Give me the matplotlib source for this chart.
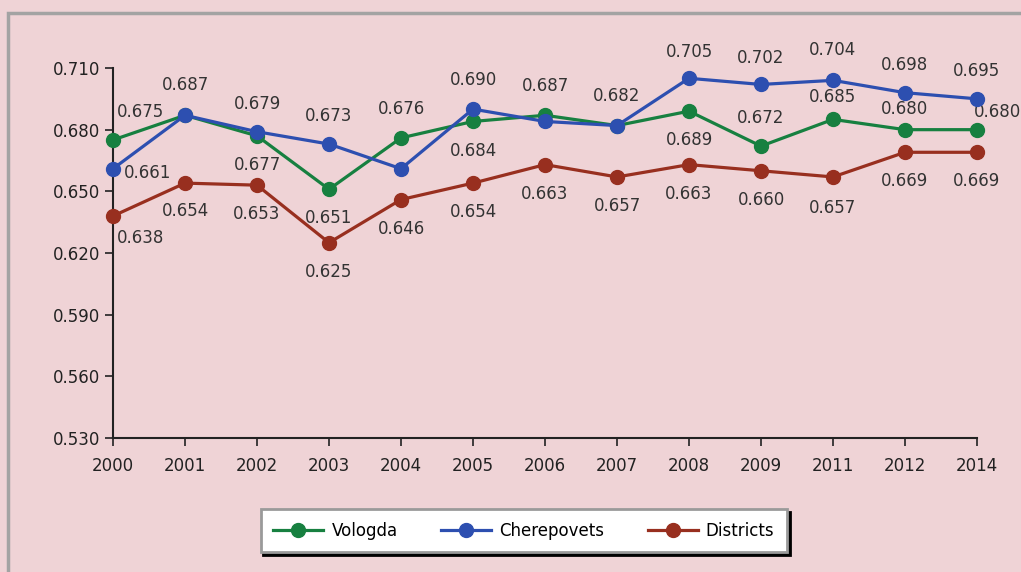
import matplotlib.pyplot as plt
from matplotlib.patches import Rectangle

# dados
years = ['2000', '2001', '2002', '2003', '2004', '2005', '2006',
         '2007', '2008', '2009', '2011', '2012', '2014']
vologda = [0.675, 0.687, 0.677, 0.651, 0.676, 0.684, 0.687,
           0.682, 0.689, 0.672, 0.685, 0.680, 0.680]
cherepovets = [0.661, 0.687, 0.679, 0.673, 0.661, 0.690, 0.684,
               0.682, 0.705, 0.702, 0.704, 0.698, 0.695]
districts = [0.638, 0.654, 0.653, 0.625, 0.646, 0.654, 0.663,
             0.657, 0.663, 0.660, 0.657, 0.669, 0.669]
yticks = [0.530, 0.560, 0.590, 0.620, 0.650, 0.680, 0.710]

# posição dos rótulos (offset em pontos; None = sem rótulo)
off_vol = [(20, 20), None, (0, -21), (0, -21), (0, 21), (0, -21), (0, 21),
           (0, 21), (0, -21), (0, 20), (0, 16), (0, 15), (15, 13)]
off_che = [(25, -3), (0, 22), (0, 20), (0, 20), None, (0, 21), None,
           None, (0, 19), (0, 19), (0, 22), (0, 20), (0, 20)]
off_dis = [(20, -16), (0, -20), (0, -21), (0, -21), (0, -21), (0, -21), (0, -21),
           (0, -21), (0, -21), (0, -21), (0, -22), (0, -21), (0, -21)]

bg = '#efd3d6'
c_vol = '#178040'
c_che = '#2d4fb0'
c_dis = '#982f1f'

fig = plt.figure(figsize=(10.21, 5.72), dpi=100, facecolor=bg)
ax = fig.add_axes([0.1107, 0.2343, 0.8462, 0.6468])
ax.set_facecolor(bg)

# moldura cinza
fig.patches.append(Rectangle((0.008, -0.1), 1.2, 1.077, transform=fig.transFigure,
                             fill=False, edgecolor='#a3a3a3', linewidth=2.5))

x = range(len(years))
series = [(vologda, c_vol, 'Vologda', off_vol),
          (cherepovets, c_che, 'Cherepovets', off_che),
          (districts, c_dis, 'Districts', off_dis)]
for vals, col, name, offs in series:
    ax.plot(x, vals, color=col, linewidth=2.3, marker='o', markersize=10,
            label=name, clip_on=False, zorder=3)
    for i, v in enumerate(vals):
        if offs[i] is None:
            continue
        ax.annotate('%.3f' % v, (i, v), xytext=offs[i], textcoords='offset points',
                    ha='center', va='center', fontsize=12, color='#333333')

ax.set_xlim(0, len(years) - 1)
ax.set_ylim(0.530, 0.710)
ax.set_xticks(list(x))
ax.set_xticklabels(years)
ax.set_yticks(yticks)
ax.set_yticklabels(['%.3f' % t for t in yticks])
ax.tick_params(axis='both', labelsize=12, colors='#222222', length=6, width=1.2, direction='out')
ax.tick_params(axis='x', pad=8)
for s in ['top', 'right']:
    ax.spines[s].set_visible(False)
for s in ['left', 'bottom']:
    ax.spines[s].set_linewidth(1.5)
    ax.spines[s].set_color('#222222')

leg = ax.legend(loc='center', bbox_to_anchor=(0.513, 0.072), bbox_transform=fig.transFigure,
                ncol=3, fontsize=12, frameon=True, fancybox=False,
                shadow={'color': 'black', 'alpha': 1.0}, handlelength=3.0,
                columnspacing=2.6, borderpad=0.75, borderaxespad=0, handletextpad=0.5,
                edgecolor='#9a9a9a', facecolor='white', framealpha=1)
leg.get_frame().set_linewidth(2)

plt.savefig('out.png', dpi=100, facecolor=bg)
